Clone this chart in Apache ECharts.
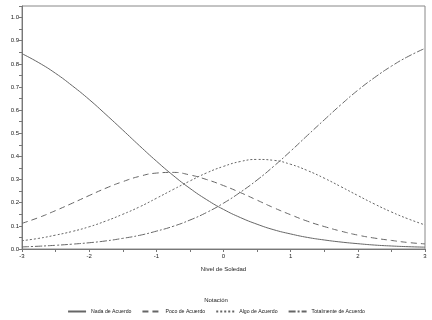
<!DOCTYPE html>
<html lang="es">
<head>
    <meta charset="UTF-8" />
    <title>Probabilidad por nivel de soledad</title>
    <script src="https://cdn.jsdelivr.net/npm/echarts@6/dist/echarts.min.js"></script>
    <style>
        body { margin: 0; background: #fff; }
        #chart { width: 432px; height: 320px; }
    </style>
</head>
<body>
<div id="chart"></div>
<script>
    // valores de x (Nivel de Soledad)
    const nivel = [-3, -2.75, -2.5, -2.25, -2, -1.75, -1.5, -1.25, -1, -0.75, -0.5, -0.25, 0,
                   0.25, 0.5, 0.75, 1, 1.25, 1.5, 1.75, 2, 2.25, 2.5, 2.75, 3];

    // probabilidades
    const nada = [0.844, 0.805, 0.759, 0.705, 0.646, 0.581, 0.514, 0.446, 0.380, 0.318, 0.262, 0.213, 0.171,
                  0.136, 0.107, 0.083, 0.065, 0.050, 0.039, 0.030, 0.023, 0.017, 0.013, 0.010, 0.008];
    const poco = [0.111, 0.136, 0.166, 0.198, 0.231, 0.263, 0.291, 0.314, 0.328, 0.331, 0.320, 0.300, 0.274,
                  0.244, 0.211, 0.178, 0.148, 0.120, 0.097, 0.077, 0.060, 0.047, 0.037, 0.028, 0.022];
    const algo = [0.036, 0.046, 0.060, 0.076, 0.096, 0.121, 0.150, 0.182, 0.219, 0.257, 0.294, 0.329, 0.357,
                  0.378, 0.387, 0.383, 0.366, 0.339, 0.306, 0.269, 0.231, 0.194, 0.160, 0.130, 0.104];
    const totalmente = [0.009, 0.012, 0.016, 0.021, 0.027, 0.035, 0.046, 0.059, 0.077, 0.098, 0.125, 0.158, 0.198,
                        0.245, 0.298, 0.358, 0.423, 0.491, 0.558, 0.624, 0.686, 0.741, 0.790, 0.832, 0.867];

    const nombres = ['Nada de Acuerdo', 'Poco de Acuerdo', 'Algo de Acuerdo', 'Totalmente de Acuerdo'];
    const datos = [nada, poco, algo, totalmente];
    const estilos = ['solid', [6, 4], [2, 2], [7, 2, 2, 2]];

    const fuente = 'Liberation Sans Narrow, Liberation Sans, sans-serif';
    const chart = echarts.init(document.getElementById('chart'));

    const series = nombres.map((n, i) => ({
        name: n,
        type: 'line',
        smooth: true,
        symbol: 'none',
        data: nivel.map((x, j) => [x, datos[i][j]]),
        lineStyle: { color: '#666', width: 1, type: estilos[i] },
        itemStyle: { color: '#666' }
    }));

    chart.setOption({
        animation: false,
        title: {
            text: 'Notación',
            left: 'center',
            top: 297,
            padding: 0,
            textStyle: { fontSize: 6, fontWeight: 'normal', color: '#222', fontFamily: fuente }
        },
        legend: {
            top: 309,
            left: 'center',
            padding: 0,
            itemWidth: 18,
            itemHeight: 6,
            itemGap: 10,
            itemStyle: { opacity: 0 },
            textStyle: { fontSize: 5.2, color: '#222', fontFamily: fuente },
            data: nombres
        },
        grid: {
            left: 22, right: 7, top: 6, bottom: 71,
            outerBoundsMode: 'none',
            containLabel: false,
            show: true, borderColor: '#888', borderWidth: 1
        },
        xAxis: {
            type: 'value',
            min: -3, max: 3, interval: 1,
            name: 'Nivel de Soledad',
            nameLocation: 'middle',
            nameGap: 17,
            nameTextStyle: { fontSize: 6, color: '#222', fontFamily: fuente },
            axisLine: { onZero: false, lineStyle: { color: '#777' } },
            axisTick: { length: 3, lineStyle: { color: '#777' } },
            minorTick: { show: true, splitNumber: 2, length: 3, lineStyle: { color: '#777' } },
            axisLabel: { fontSize: 6, color: '#222', margin: 4, fontFamily: fuente },
            splitLine: { show: false }
        },
        yAxis: {
            type: 'value',
            min: 0, max: 1.05, interval: 0.1,
            name: 'Probabilidad',
            nameLocation: 'middle',
            nameGap: 15,
            nameTextStyle: { fontSize: 5, color: '#222', fontFamily: fuente },
            axisLine: { show: true, onZero: false, lineStyle: { color: '#777' } },
            axisTick: { show: true, length: 3, lineStyle: { color: '#777' } },
            minorTick: { show: true, splitNumber: 2, length: 3, lineStyle: { color: '#777' } },
            axisLabel: {
                fontSize: 6, color: '#222', margin: 3, fontFamily: fuente,
                formatter: v => v > 1.001 ? '' : v.toFixed(1)
            },
            splitLine: { show: false }
        },
        series: series
    });
</script>
</body>
</html>
